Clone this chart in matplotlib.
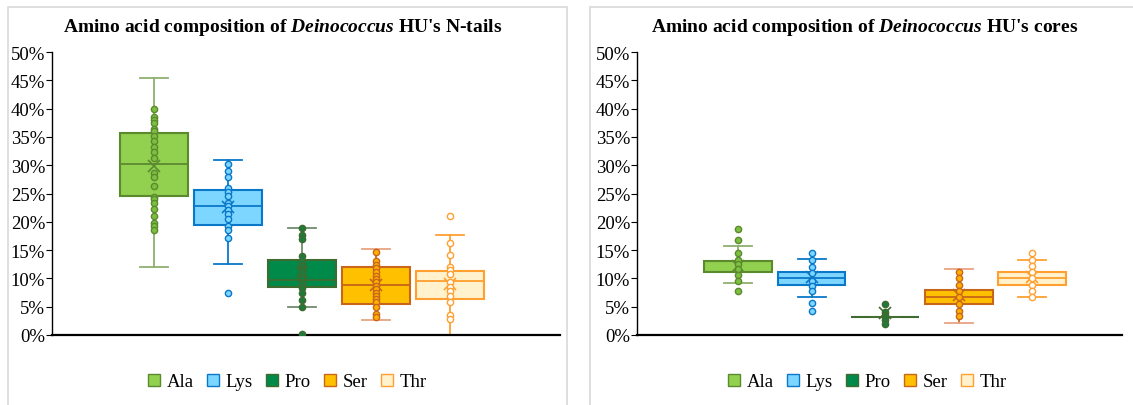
import matplotlib
matplotlib.use("Agg")
import matplotlib.pyplot as plt
from matplotlib.patches import Patch
from matplotlib.ticker import PercentFormatter

plt.rcParams["font.family"] = "Liberation Serif"
plt.rcParams["mathtext.fontset"] = "custom"
plt.rcParams["mathtext.rm"] = "Liberation Serif:bold"
plt.rcParams["mathtext.it"] = "Liberation Serif:bold:italic"

amino_acids = ["Ala", "Lys", "Pro", "Ser", "Thr"]

# box statistics (percent): q1, median, q3, whisker low, whisker high, mean
tails_q1 = [24.5, 19.4, 8.5, 5.4, 6.4]
tails_med = [30.2, 22.8, 9.8, 8.9, 9.6]
tails_q3 = [35.7, 25.7, 13.3, 12.0, 11.3]
tails_lo = [12.1, 12.5, 4.9, 2.7, 0.0]
tails_hi = [45.4, 30.9, 18.9, 15.2, 17.7]
tails_mean = [29.9, 22.6, 11.2, 8.9, 9.0]

cores_q1 = [11.1, 8.9, 3.2, 5.4, 8.8]
cores_med = [11.2, 10.1, 3.2, 6.7, 10.0]
cores_q3 = [13.0, 11.2, 3.2, 8.0, 11.2]
cores_lo = [9.2, 6.7, 3.2, 2.2, 6.7]
cores_hi = [15.7, 13.4, 3.2, 11.7, 13.3]
cores_mean = [12.2, 10.3, 3.9, 7.0, 10.3]

# individual points (percent)
tails_ala = [40.0, 38.6, 38.0, 37.5, 36.4, 36.0, 35.2, 34.3, 33.3, 32.3, 31.2,
             28.7, 28.0, 26.4, 24.4, 24.0, 23.4, 22.3, 21.1, 19.8, 19.3, 18.5]
tails_lys = [30.3, 29.0, 27.9, 25.9, 25.2, 24.5, 23.4, 22.8, 22.0, 21.3, 20.5,
             19.2, 18.5, 17.1, 7.4]
tails_pro = [18.9, 17.7, 17.0, 13.9, 13.0, 12.2, 11.7, 11.1, 10.2, 9.2, 8.3,
             7.4, 6.1, 4.9, 0.2]
tails_ser = [14.6, 13.0, 12.4, 11.8, 11.1, 10.5, 9.9, 9.3, 8.7, 8.1, 7.5,
             6.9, 6.4, 5.8, 4.9, 3.7, 3.1]
tails_thr = [21.1, 16.2, 14.1, 12.0, 11.4, 10.8, 9.3, 8.5, 7.8, 6.9, 5.8, 3.5, 2.8]

cores_ala = [18.7, 16.8, 14.5, 13.3, 12.5, 11.7, 10.6, 9.5, 7.8]
cores_lys = [14.5, 13.3, 12.1, 10.9, 9.6, 8.7, 7.8, 5.7, 4.3]
cores_pro = [5.5, 4.0, 3.6, 3.2, 2.7, 2.0]
cores_ser = [11.1, 10.0, 8.8, 7.8, 6.7, 5.5, 4.3, 3.3]
cores_thr = [14.5, 13.3, 12.2, 11.1, 10.0, 8.8, 7.8, 6.8]

fills = ["#92D050", "#7DD6FF", "#008A4A", "#FFC000", "#FFF2CC"]
edges = ["#5B8A2E", "#0A78C8", "#3F6B2F", "#C8661A", "#FFA030"]
whisk = ["#8FAF70", "#0A78C8", "#6E8C6E", "#C8661A", "#FFA030"]
caps = ["#8FAF70", "#0A78C8", "#6E8C6E", "#E8A383", "#FFA030"]
dot_face = ["#7DBF40", "#7DD6FF", "#1F7A3F", "#FFB000", "white"]


def draw_panel(ax, q1, med, q3, lo, hi, mean, points, xlim):
    for i in range(5):
        stats = [{"q1": q1[i], "med": med[i], "q3": q3[i], "whislo": lo[i],
                  "whishi": hi[i], "mean": mean[i], "fliers": []}]
        ax.bxp(stats, positions=[i + 1], widths=0.92, capwidths=0.38,
               patch_artist=True, showmeans=True, manage_ticks=False,
               boxprops=dict(facecolor=fills[i], edgecolor=edges[i], linewidth=1.5),
               medianprops=dict(color=edges[i], linewidth=1.3),
               whiskerprops=dict(color=whisk[i], linewidth=1.3),
               capprops=dict(color=caps[i], linewidth=1.3),
               meanprops=dict(marker="x", markeredgecolor=edges[i],
                              markersize=8, markeredgewidth=1.2))
        ys = points[i]
        ax.plot([i + 1] * len(ys), ys, "o", ls="none", markersize=4.5,
                markerfacecolor=dot_face[i], markeredgecolor=edges[i],
                markeredgewidth=1.0, zorder=4)
    ax.set_ylim(0, 50)
    ax.set_xlim(*xlim)
    ax.set_yticks(range(0, 51, 5))
    ax.yaxis.set_major_formatter(PercentFormatter(decimals=0))
    ax.set_xticks([])
    for s in ["top", "right"]:
        ax.spines[s].set_visible(False)
    ax.spines["left"].set_linewidth(1.0)
    ax.spines["bottom"].set_linewidth(1.6)
    ax.tick_params(axis="y", labelsize=13.5, length=4, pad=1, direction="out")


fig = plt.figure(figsize=(11.33, 4.06), dpi=100)

# panel frames
fig.patches.append(plt.Rectangle((8 / 1133, -0.01), 559 / 1133, 1 - 8 / 406 + 0.01,
                                 transform=fig.transFigure, fill=False,
                                 edgecolor="#D9D9D9", linewidth=1.2))
fig.patches.append(plt.Rectangle((590 / 1133, -0.01), 0.5, 1 - 8 / 406 + 0.01,
                                 transform=fig.transFigure, fill=False,
                                 edgecolor="#D9D9D9", linewidth=1.2))

ax1 = fig.add_axes([52 / 1133, 70 / 406, 508 / 1133, 283 / 406])
ax2 = fig.add_axes([637 / 1133, 70 / 406, 485 / 1133, 283 / 406])

draw_panel(ax1, tails_q1, tails_med, tails_q3, tails_lo, tails_hi, tails_mean,
           [tails_ala, tails_lys, tails_pro, tails_ser, tails_thr], (-0.378, 6.486))
draw_panel(ax2, cores_q1, cores_med, cores_q3, cores_lo, cores_hi, cores_mean,
           [cores_ala, cores_lys, cores_pro, cores_ser, cores_thr], (-0.374, 6.22))

fig.text(283 / 1133, 1 - 28 / 406,
         r"Amino acid composition of $\mathit{Deinococcus}$ HU's N-tails",
         ha="center", va="center", fontsize=14, fontweight="bold")
fig.text(865 / 1133, 1 - 28 / 406,
         r"Amino acid composition of $\mathit{Deinococcus}$ HU's cores",
         ha="center", va="center", fontsize=14, fontweight="bold")

handles = [Patch(facecolor=f, edgecolor=e, label=a)
           for f, e, a in zip(fills, edges, amino_acids)]
for cx in (287 / 1133, 867 / 1133):
    fig.legend(handles=handles, loc="center", bbox_to_anchor=(cx, 1 - 383 / 406),
               ncol=5, frameon=False, fontsize=13.5, handlelength=0.65,
               handleheight=0.65, handletextpad=0.35, columnspacing=0.7)

fig.savefig("out.png", dpi=100)
